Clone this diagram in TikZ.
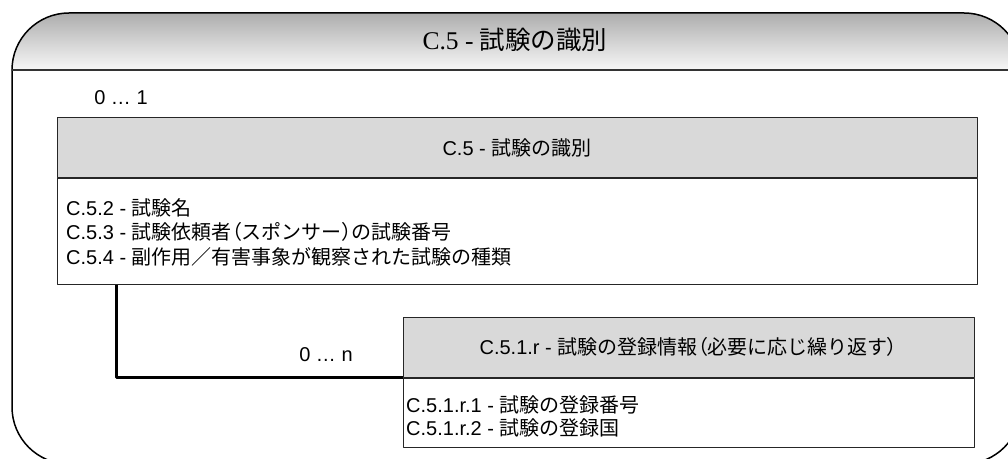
\documentclass[tikz,border=0pt]{standalone}
\usepackage{fontspec}
\setmainfont{Liberation Sans}
\newfontfamily\ttlserif{Liberation Serif}
\newfontfamily\jpfont{Noto Sans CJK JP}
\newfontfamily\jppal[RawFeature=+palt]{Noto Sans CJK JP}
\newcommand{\jp}[1]{{\jpfont #1}}
\newcommand{\jpp}[1]{{\jppal #1}}
\definecolor{hdrgray}{RGB}{217,217,217}
\begin{document}
\begin{tikzpicture}[line cap=round,line join=round,x=1pt,y=1pt,
    box/.style={draw=black!85,line width=1pt,rectangle,inner sep=0pt},
    hdr/.style={box,fill=hdrgray,font=\fontsize{20}{24}\selectfont},
    lbl/.style={inner sep=0pt,align=left,font=\fontsize{20}{24.5}\selectfont},
    link/.style={line width=2.5pt,line cap=butt}]
  \useasboundingbox (0,0) rectangle (1008,458);
  \begin{scope}
    \clip (0,0) rectangle (1008,458);
    \fill[top color=black!32,bottom color=black!3] (12,388) arc[start angle=180,end angle=90,radius=57]
      -- (964,445) arc[start angle=90,end angle=0,radius=57] -- cycle;
    \draw[line width=1.5pt,rounded corners=57pt] (12,-6) rectangle (1021,445);
    \draw[line width=1.5pt,color=black!80] (12,388) -- (1021,388);
  \end{scope}
  \node[inner sep=0pt,font=\fontsize{25.5}{30}\selectfont] (frametitle) at (515,418) {{\ttlserif C.5 - }\jp{試験の識別}};
  \node[lbl] (onecard) at (121,360) {0 … 1};
  \node[hdr,minimum width=920,minimum height=60] (trialhdr) at (517,310) {C.5 - \jp{試験の識別}};
  \node[box,minimum width=920,minimum height=105,anchor=north] (trialbody) at (trialhdr.south) {};
  \node[lbl,anchor=west] (trialitems) at (66,226) {C.5.2 - \jp{試験名}\\
    C.5.3 - \jp{試験依頼者}\jpp{（}\jp{スポンサー}\jpp{）}\jp{の試験番号}\\
    C.5.4 - \jp{副作用／有害事象が観察された試験の種類}};
  \node[hdr,minimum width=571,minimum height=60] (reghdr) at (688.5,111)
    {C.5.1.r - \jp{試験の登録情報}\jpp{（}\jp{必要に応じ繰り返す}\jpp{）}};
  \node[box,minimum width=571,minimum height=69,anchor=north] (regbody) at (reghdr.south) {};
  \node[lbl,anchor=west,font=\fontsize{20}{23}\selectfont] (regitems) at (406,42) {C.5.1.r.1 - \jp{試験の登録番号}\\
    C.5.1.r.2 - \jp{試験の登録国}};
  \draw[link] ([xshift=60pt]trialbody.south west) |- (reghdr.south west);
  \node[lbl] (manycard) at (326,103) {0 … n};
\end{tikzpicture}
\end{document}
